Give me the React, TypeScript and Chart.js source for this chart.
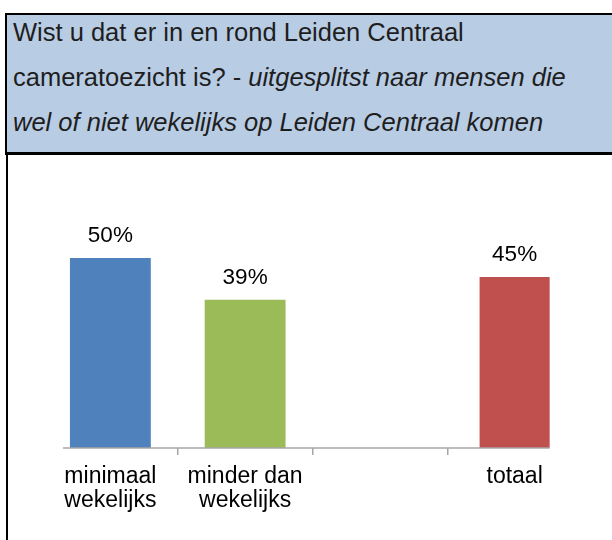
import React, { useEffect, useRef } from "react";
import { Chart, registerables } from "chart.js";

Chart.register(...registerables);

const categories: (string | string[])[] = [
  ["minimaal", "wekelijks"],
  ["minder dan", "wekelijks"],
  "",
  "totaal",
];
const values: (number | null)[] = [50, 39, null, 45];
const valueLabels = ["50%", "39%", "", "45%"];
const barColors = ["#4f81bd", "#9bbb59", "rgba(0,0,0,0)", "#c0504d"];
const totalIndex = 3;
const yMax = 60;

const FONT = "'Liberation Sans', Arial, Helvetica, sans-serif";

const groupValues = values.map((v, i) => (i === totalIndex ? null : v));
const totalValues = values.map((v, i) => (i === totalIndex ? v : null));

const valueLabelPlugin = {
  id: "valueLabels",
  afterDatasetsDraw(chart: any) {
    const ctx = chart.ctx;
    const yScale = chart.scales.y;
    const base = yScale.getPixelForValue(0);
    const bars: any[] = [];
    values.forEach((v, i) => {
      if (v === null) return;
      const ds = i === totalIndex ? 1 : 0;
      bars.push({ el: chart.getDatasetMeta(ds).data[i], i });
    });
    if (bars.length) {
      const first = bars[0].el;
      const last = bars[bars.length - 1].el;
      ctx.save();
      ctx.strokeStyle = "#a6a6a6";
      ctx.lineWidth = 1.5;
      ctx.beginPath();
      ctx.moveTo(first.x - first.width / 2 - 7, base);
      ctx.lineTo(last.x + last.width / 2, base);
      ctx.stroke();
      ctx.restore();
    }
    ctx.save();
    ctx.fillStyle = "#000";
    ctx.font = `22.5px ${FONT}`;
    ctx.textAlign = "center";
    ctx.textBaseline = "alphabetic";
    bars.forEach(({ el, i }) => {
      ctx.fillText(valueLabels[i], el.x, el.y - 16);
    });
    ctx.restore();
  },
};

export default function App() {
  const ref = useRef<HTMLCanvasElement>(null);
  useEffect(() => {
    if (!ref.current) return;
    const chart = new Chart(ref.current, {
      type: "bar",
      data: {
        labels: categories,
        datasets: [
          {
            data: groupValues as any,
            backgroundColor: barColors,
            borderWidth: 0,
            barPercentage: 0.6,
            categoryPercentage: 1,
            grouped: false,
          },
          {
            data: totalValues as any,
            backgroundColor: barColors,
            borderWidth: 0,
            barPercentage: 0.52,
            categoryPercentage: 1,
            grouped: false,
          },
        ],
      },
      options: {
        animation: false,
        responsive: false,
        maintainAspectRatio: false,
        layout: { padding: { left: 43, right: 30, top: 64, bottom: 0 } },
        plugins: { legend: { display: false }, tooltip: { enabled: false } },
        scales: {
          x: {
            offset: true,
            grid: {
              display: true,
              offset: true,
              drawOnChartArea: false,
              drawTicks: true,
              tickLength: 7,
              lineWidth: 1.5,
              color: (c: any) =>
                c.index === 0 || c.index === undefined ? "rgba(0,0,0,0)" : "#a6a6a6",
            },
            border: { display: false },
            ticks: {
              color: "#000",
              font: { family: FONT, size: 23, lineHeight: 24 / 23 },
              padding: 10,
              maxRotation: 0,
              autoSkip: false,
            },
            afterFit: (s: any) => {
              s.height = 92;
            },
          },
          y: { display: false, min: 0, max: yMax },
        },
      },
      plugins: [valueLabelPlugin],
    });
    return () => chart.destroy();
  }, []);

  return (
    <div
      style={{
        position: "absolute",
        left: 0,
        top: 0,
        width: 612,
        height: 540,
        overflow: "hidden",
        background: "#fff",
      }}
    >
      <div
        style={{
          position: "absolute",
          left: 5,
          top: 13,
          width: 700,
          height: 142,
          boxSizing: "border-box",
          background: "#b8cce4",
          borderTop: "2px solid #000",
          borderLeft: "2px solid #000",
          borderBottom: "3px solid #000",
        }}
      />
      <div
        style={{
          position: "absolute",
          left: 13,
          top: 10,
          fontFamily: FONT,
          fontSize: 25.5,
          lineHeight: "45px",
          color: "#1e1e1e",
          whiteSpace: "nowrap",
        }}
      >
        <div>Wist u dat er in en rond Leiden Centraal</div>
        <div>
          cameratoezicht is? - <i>uitgesplitst naar mensen die</i>
        </div>
        <div>
          <i>wel of niet wekelijks op Leiden Centraal komen</i>
        </div>
      </div>
      <canvas
        ref={ref}
        width={612}
        height={384}
        style={{ position: "absolute", left: 0, top: 156, width: 612, height: 384 }}
      />
      <div
        style={{
          position: "absolute",
          left: 6,
          top: 155,
          width: 2,
          height: 385,
          background: "#000",
        }}
      />
    </div>
  );
}
